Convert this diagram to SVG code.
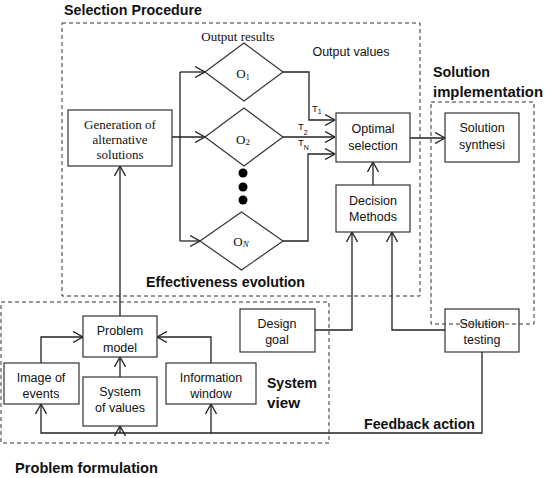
<svg xmlns="http://www.w3.org/2000/svg" width="545" height="478" viewBox="0 0 545 478">
<style>
.box{fill:#fff;stroke:#333;stroke-width:1.2}
.dash{fill:none;stroke:#333;stroke-width:1;stroke-dasharray:4,3}
.ln{fill:none;stroke:#222;stroke-width:1.3}
.arr{marker-end:url(#a)}
.sf{font-family:"Liberation Serif","Times New Roman",serif;font-size:13px;fill:#111;text-anchor:middle}
.ss{font-family:"Liberation Sans",Arial,sans-serif;font-size:12.5px;fill:#111;text-anchor:middle}
.bt{font-family:"Liberation Sans",Arial,sans-serif;font-size:15px;font-weight:bold;fill:#111}
.t{font-family:"Liberation Sans",Arial,sans-serif;font-size:9.5px;fill:#111}
.dot{fill:#000}
</style>
<defs>
<marker id="a" viewBox="0 0 10 12" refX="10" refY="6" markerWidth="10" markerHeight="12" markerUnits="userSpaceOnUse" orient="auto">
<path d="M0,0.5 L10,6 L0,11.5" fill="none" stroke="#222" stroke-width="1.3"/>
</marker>
</defs>
<rect width="545" height="478" fill="#fff"/>

<g id="connectors">
<path class="ln" d="M180,72 V241"/>
<path class="ln arr" d="M180,72 H205"/>
<path class="ln arr" d="M172,137 H205"/>
<path class="ln arr" d="M180,241 H200"/>
<path class="ln arr" d="M283,72 H309 V120 H335"/>
<path class="ln arr" d="M283,137 H335"/>
<path class="ln arr" d="M283,241 H308 V154 H335"/>
<path class="ln arr" d="M410,138 H445"/>
<path class="ln arr" d="M373,185 V162"/>
<path class="ln arr" d="M315,330 H352 V232"/>
<path class="ln arr" d="M445,330 H392 V232"/>
<path class="ln arr" d="M482,352 V433 H41 V404"/>
<path class="ln arr" d="M120,433 V426"/>
<path class="ln arr" d="M211,433 V404"/>
<path class="ln arr" d="M41,363 V337 H83"/>
<path class="ln arr" d="M211,363 V337 H157"/>
<path class="ln arr" d="M120,377 V357"/>
<path class="ln arr" d="M120,316 V166"/>
</g>

<g id="generation">
<rect class="box" x="68" y="110" width="104" height="56"/>
<text class="sf" x="120" y="129">Generation of</text>
<text class="sf" x="120" y="144">alternative</text>
<text class="sf" x="120" y="159">solutions</text>
</g>

<g id="o1">
<polygon class="box" points="205,72 244,43 283,72 244,101"/>
<text class="sf" x="243" y="78">O<tspan font-size="8" dy="2">1</tspan></text>
</g>
<g id="o2">
<polygon class="box" points="205,137 244,108 283,137 244,166"/>
<text class="sf" x="243" y="144">O<tspan font-size="9" dy="1">2</tspan></text>
</g>
<g id="dots">
<circle class="dot" cx="243" cy="173" r="4.5"/>
<circle class="dot" cx="243" cy="187" r="4.5"/>
<circle class="dot" cx="243" cy="200" r="4.5"/>
</g>
<g id="on">
<polygon class="box" points="200,241 241.5,212 283,241 241.5,270"/>
<text class="sf" x="241" y="246">O<tspan font-size="9" font-style="italic" dy="1">N</tspan></text>
</g>

<text class="sf" x="238" y="41">Output results</text>
<text class="ss" x="351" y="56">Output values</text>

<g id="tlabels">
<text class="t" x="312" y="112">T<tspan font-size="7" dy="2">1</tspan></text>
<text class="t" x="298" y="130">T<tspan font-size="7" dy="5">2</tspan></text>
<text class="t" x="298" y="145.5">T<tspan font-size="7" dy="4">N</tspan></text>
</g>

<g id="optimal">
<rect class="box" x="336" y="113" width="74" height="49"/>
<text class="ss" x="373" y="133">Optimal</text>
<text class="ss" x="373" y="150">selection</text>
</g>
<g id="decision">
<rect class="box" x="336" y="185" width="74" height="47"/>
<text class="ss" x="373" y="205">Decision</text>
<text class="ss" x="373" y="221">Methods</text>
</g>
<g id="synthesis">
<rect class="box" x="445" y="113" width="74" height="49"/>
<text class="ss" x="482" y="132">Solution</text>
<text class="ss" x="482" y="149">synthesi</text>
</g>
<g id="design">
<rect class="box" x="240" y="309" width="75" height="43"/>
<text class="ss" x="277" y="328">Design</text>
<text class="ss" x="277" y="344">goal</text>
</g>
<g id="testing">
<rect class="box" x="445" y="309" width="74" height="43"/>
<text class="ss" x="482" y="328">Solution</text>
<text class="ss" x="482" y="344">testing</text>
</g>
<g id="model">
<rect class="box" x="83" y="316" width="74" height="41"/>
<text class="ss" x="120" y="335">Problem</text>
<text class="ss" x="120" y="352">model</text>
</g>
<g id="image">
<rect class="box" x="4" y="363" width="75" height="41"/>
<text class="ss" x="41" y="382">Image of</text>
<text class="ss" x="41" y="398">events</text>
</g>
<g id="values">
<rect class="box" x="83" y="377" width="74" height="49"/>
<text class="ss" x="120" y="396">System</text>
<text class="ss" x="120" y="412">of values</text>
</g>
<g id="info">
<rect class="box" x="166" y="363" width="90" height="41"/>
<text class="ss" x="211" y="382">Information</text>
<text class="ss" x="211" y="398">window</text>
</g>

<g id="regions">
<rect class="dash" x="62" y="23" width="358" height="273"/>
<rect class="dash" x="431" y="102" width="103" height="222"/>
<rect class="dash" x="1" y="302" width="328" height="141"/>
<text class="bt" x="64" y="15" textLength="138" lengthAdjust="spacingAndGlyphs">Selection Procedure</text>
<text class="bt" x="433" y="77" textLength="57" lengthAdjust="spacingAndGlyphs">Solution</text>
<text class="bt" x="433" y="97" textLength="110" lengthAdjust="spacingAndGlyphs">implementation</text>
<text class="bt" x="146" y="287" textLength="159" lengthAdjust="spacingAndGlyphs">Effectiveness evolution</text>
<text class="bt" x="267" y="388" textLength="50" lengthAdjust="spacingAndGlyphs">System</text>
<text class="bt" x="267" y="408" textLength="33" lengthAdjust="spacingAndGlyphs">view</text>
<text class="bt" x="364" y="429" textLength="111" lengthAdjust="spacingAndGlyphs">Feedback action</text>
<text class="bt" x="15" y="473" textLength="143" lengthAdjust="spacingAndGlyphs">Problem formulation</text>
</g>
</svg>
